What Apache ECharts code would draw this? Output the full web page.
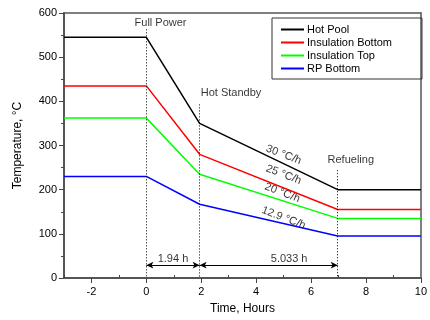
<!DOCTYPE html>
<html>
<head>
<meta charset="utf-8">
<script src="https://cdn.jsdelivr.net/npm/echarts@6/dist/echarts.min.js"></script>
<style>
  html, body { margin: 0; padding: 0; background: #fff; }
  #main { width: 430px; height: 320px; }
</style>
</head>
<body>
<div id="main"></div>
<script>
// time points (hours) and temperatures (°C)
var time = [-3, 0, 1.94, 6.97, 10];
var hotPool = [545, 545, 350, 200, 200];
var insBottom = [435, 435, 280, 155, 155];
var insTop = [362, 362, 235, 135, 135];
var rpBottom = [230, 230, 167, 95, 95];

var seriesNames = ['Hot Pool', 'Insulation Bottom', 'Insulation Top', 'RP Bottom'];
var seriesColors = ['#000000', '#ff0000', '#00ff00', '#0000ff'];

var majorX = [-2, 0, 2, 4, 6, 8, 10];
var minorX = [-3, -1, 1, 3, 5, 7, 9];

// event markers: time, top of dotted line
var eventX = [0, 1.94, 6.97];
var eventTop = [563, 393, 244];

// annotation texts [x, y, text]
var eventLabels = [[-0.43, 577, 'Full Power'], [1.98, 419, 'Hot Standby'], [6.6, 267, 'Refueling']];
var rateLabels = [[5.0, 279, '30 °C/h'], [5.0, 234, '25 °C/h'], [4.95, 193, '20 °C/h'], [5.0, 136, '12.9 °C/h']];
var spanLabels = [[0.97, 42, '1.94 h'], [5.2, 42, '5.033 h']];
var arrowY = 29;

var myChart = echarts.init(document.getElementById('main'));

function pairs(ys) {
  return time.map(function (t, i) { return [t, ys[i]]; });
}

var lines = [hotPool, insBottom, insTop, rpBottom].map(function (ys, i) {
  return {
    name: seriesNames[i],
    type: 'line',
    data: pairs(ys),
    symbol: 'none',
    lineStyle: { color: seriesColors[i], width: 1.5 },
    itemStyle: { color: seriesColors[i] },
    animation: false,
    z: 3
  };
});

// dotted event lines + span arrows
var markData = eventX.map(function (x, i) {
  return [{ coord: [x, eventTop[i]], symbol: 'none' }, { coord: [x, 0], symbol: 'none' }];
});
markData.push([{ coord: [eventX[0], arrowY], symbol: 'arrow', lineStyle: { type: 'solid' } }, { coord: [eventX[1], arrowY], symbol: 'arrow' }]);
markData.push([{ coord: [eventX[1], arrowY], symbol: 'arrow', lineStyle: { type: 'solid' } }, { coord: [eventX[2], arrowY], symbol: 'arrow' }]);

var annotations = {
  type: 'scatter',
  symbolSize: 0,
  silent: true,
  animation: false,
  data: eventLabels.map(function (d) {
    return { value: [d[0], d[1]], name: d[2], label: { align: 'left' } };
  }).concat(spanLabels.map(function (d) {
    return { value: [d[0], d[1]], name: d[2], label: { align: 'center' } };
  })).concat(rateLabels.map(function (d) {
    return { value: [d[0], d[1]], name: d[2], label: { rotate: -21, align: 'center' } };
  })),
  label: {
    show: true,
    position: 'inside',
    formatter: '{b}',
    fontFamily: 'Liberation Sans',
    fontSize: 11,
    color: '#000'
  },
  markLine: {
    silent: true,
    animation: false,
    symbolSize: [5, 7],
    label: { show: false },
    lineStyle: { color: '#000', width: 1, type: [1, 2] },
    data: markData
  }
};

myChart.setOption({
  backgroundColor: '#fff',
  grid: { left: 64, right: 7, top: 13, bottom: 42 },
  legend: {
    data: seriesNames,
    orient: 'vertical',
    left: 272,
    top: 18,
    width: 123,
    padding: [6, 30, 5, 9],
    itemGap: 2,
    itemWidth: 23,
    itemHeight: 2,
    icon: 'rect',
    borderColor: '#333',
    borderWidth: 1,
    textStyle: { fontFamily: 'Liberation Sans', fontSize: 11, color: '#000', padding: [0, 0, 0, -2] }
  },
  xAxis: [{
    type: 'value',
    min: -3,
    max: 10,
    name: 'Time, Hours',
    nameLocation: 'middle',
    nameGap: 25,
    nameTextStyle: { fontFamily: 'Liberation Sans', fontSize: 12, color: '#000' },
    axisLine: { onZero: false, lineStyle: { color: '#555', width: 2 } },
    axisTick: { customValues: majorX, length: 5, lineStyle: { color: '#444' } },
    axisLabel: { customValues: majorX, margin: 8, fontFamily: 'Liberation Sans', fontSize: 11, color: '#000' },
    splitLine: { show: false }
  }, {
    type: 'value',
    min: -3,
    max: 10,
    position: 'bottom',
    axisLine: { show: false, onZero: false },
    axisTick: { customValues: minorX, length: 3, inside: true, lineStyle: { color: '#444' } },
    axisLabel: { show: false },
    splitLine: { show: false }
  }, {
    type: 'value',
    min: -3,
    max: 10,
    position: 'top',
    axisLine: { onZero: false, lineStyle: { color: '#555', width: 1.5 } },
    axisTick: { show: false },
    axisLabel: { show: false },
    splitLine: { show: false }
  }],
  yAxis: [{
    type: 'value',
    min: 0,
    max: 600,
    interval: 100,
    name: 'Temperature, °C',
    nameLocation: 'middle',
    nameGap: 40,
    nameTextStyle: { fontFamily: 'Liberation Sans', fontSize: 12, color: '#000' },
    axisLine: { show: true, onZero: false, lineStyle: { color: '#555', width: 2 } },
    axisTick: { show: true, length: 5, lineStyle: { color: '#444' } },
    minorTick: { show: true, splitNumber: 2, length: 3, lineStyle: { color: '#444' } },
    axisLabel: { margin: 7, fontFamily: 'Liberation Sans', fontSize: 11, color: '#000' },
    splitLine: { show: false }
  }, {
    type: 'value',
    min: 0,
    max: 600,
    position: 'right',
    axisLine: { show: true, onZero: false, lineStyle: { color: '#555', width: 1.5 } },
    axisTick: { show: false },
    axisLabel: { show: false },
    splitLine: { show: false }
  }],
  series: lines.concat([annotations])
});
</script>
</body>
</html>
